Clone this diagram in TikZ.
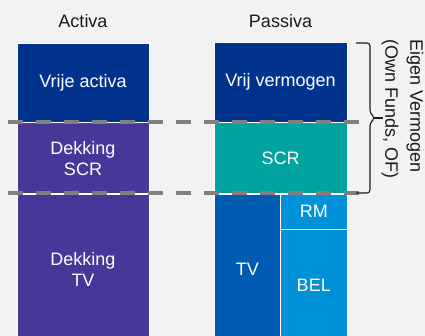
\documentclass[tikz,border=0pt]{standalone}
\usepackage{fontspec}
\setmainfont{Liberation Sans}
\usetikzlibrary{positioning}

\definecolor{donkerblauw}{RGB}{0,51,141}
\definecolor{paars}{RGB}{72,54,152}
\definecolor{turkoois}{RGB}{0,163,159}
\definecolor{middenblauw}{RGB}{0,91,178}
\definecolor{lichtblauw}{RGB}{0,145,217}
\definecolor{achtergrond}{RGB}{242,242,242}
\definecolor{streepgrijs}{RGB}{128,128,128}
\definecolor{tekstzwart}{RGB}{26,26,26}

\tikzset{
    blok/.style={draw=white, line width=0.6pt, text=white, align=center, inner sep=0pt,
        font=\fontsize{18}{21}\selectfont},
    kop/.style={text=tekstzwart, font=\fontsize{18}{21}\selectfont},
    grens/.style={streepgrijs, line width=3.5pt, dash pattern=on 15pt off 13pt},
    accolade/.style={tekstzwart, line width=1.1pt, rounded corners=3pt},
}

\begin{document}
\begin{tikzpicture}[x=1pt, y=-1pt]
    % Canvas
    \useasboundingbox (0,0) rectangle (425,336);
    \fill[achtergrond] (0,0) rectangle (425,336);
    \clip (0,0) rectangle (425,336);

    % Activa column
    \node[kop] (activa) at (83,21) {Activa};
    \node[blok, fill=donkerblauw, minimum width=132pt, minimum height=79pt] (vrijact) at (83,82.5) {Vrije activa};
    \node[blok, fill=paars, minimum width=132pt, minimum height=71pt, below=0pt of vrijact] (dekscr) {Dekking\\SCR};
    \node[blok, fill=paars, minimum width=132pt, minimum height=150pt, below=0pt of dekscr] (dektv) {Dekking\\TV};

    % Passiva column
    \node[kop] (passiva) at (280.5,21) {Passiva};
    \node[blok, fill=donkerblauw, minimum width=133pt, minimum height=80pt] (vrijverm) at (280.5,82) {Vrij vermogen};
    \node[blok, fill=turkoois, minimum width=133pt, minimum height=71pt, below=0pt of vrijverm] (scr) {SCR};
    \node[blok, fill=middenblauw, minimum width=66.5pt, minimum height=150pt, below right=0pt and 0pt of scr.south west] (tv) {TV};
    \node[blok, fill=lichtblauw, minimum width=66.5pt, minimum height=35pt, below left=0pt and 0pt of scr.south east] (rm) {RM};
    \node[blok, fill=lichtblauw, minimum width=66.5pt, minimum height=112pt, below=0pt of rm] (bel) {BEL};

    % Dashed level lines
    \draw[grens] (8,122) -- (360,122);
    \draw[grens] (8,193) -- (360,193);

    % Brace for own funds
    \coordinate (bboven) at (356,43);
    \coordinate (bonder) at (356,193);
    \coordinate (bpunt) at (383,118);
    \draw[accolade] (bboven) -- (370,43) -- (370,113) -- (375,118) -- (370,123) -- (370,193) -- (bonder);
    \draw[tekstzwart, line width=1.1pt] (373,118) -- (bpunt);

    \node[rotate=-90, anchor=west, align=left, inner sep=0pt, text=tekstzwart,
        font=\fontsize{18}{25}\selectfont] (eigenverm) at (402.5,39) {Eigen Vermogen\\(Own Funds, OF)};
\end{tikzpicture}
\end{document}
